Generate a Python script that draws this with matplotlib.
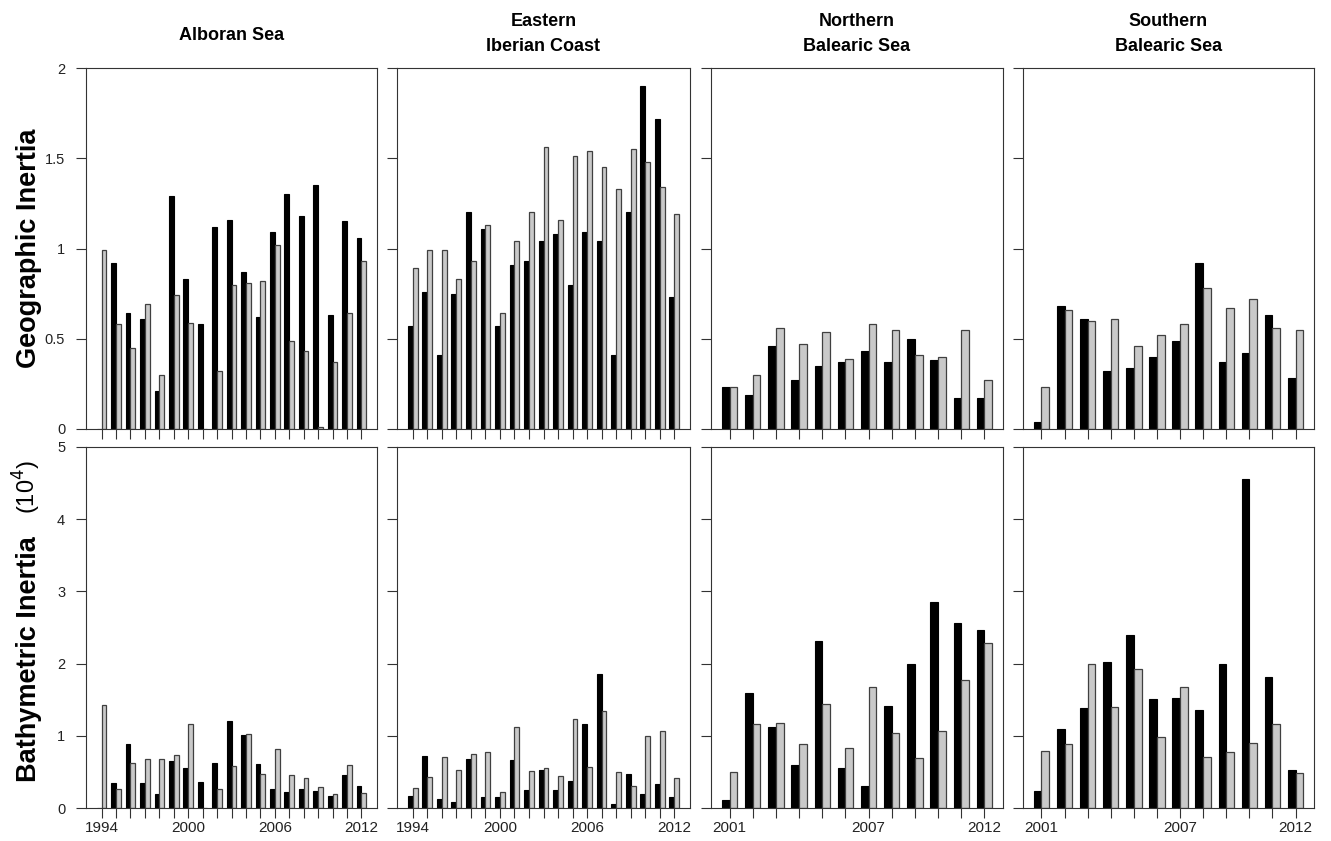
import numpy as np
import matplotlib
matplotlib.use('Agg')
import matplotlib.pyplot as plt

plt.rcParams['font.family'] = ['Liberation Sans', 'DejaVu Sans']

# year categories
years_long = [1994, 1995, 1996, 1997, 1998, 1999, 2000, 2001, 2002, 2003,
              2004, 2005, 2006, 2007, 2008, 2009, 2010, 2011, 2012]
years_short = [2001, 2002, 2003, 2004, 2005, 2006, 2007, 2008, 2009, 2010, 2011, 2012]
labels_long = ['1994', '', '', '', '', '', '2000', '', '', '', '', '', '2006', '', '', '', '', '', '2012']
labels_short = ['2001', '', '', '', '', '', '2007', '', '', '', '', '2012']

areas = ['Alboran Sea', 'Eastern\nIberian Coast', 'Northern\nBalearic Sea', 'Southern\nBalearic Sea']

# geographic inertia (top row): black bars and grey bars
alb_geo_black = [0, 0.92, 0.64, 0.61, 0.21, 1.29, 0.83, 0.58, 1.12, 1.16,
                 0.87, 0.62, 1.09, 1.30, 1.18, 1.35, 0.63, 1.15, 1.06]
alb_geo_grey = [0.99, 0.58, 0.45, 0.69, 0.30, 0.74, 0.59, 0, 0.32, 0.80,
                0.81, 0.82, 1.02, 0.49, 0.43, 0.01, 0.37, 0.64, 0.93]
eib_geo_black = [0.57, 0.76, 0.41, 0.75, 1.20, 1.11, 0.57, 0.91, 0.93, 1.04,
                 1.08, 0.80, 1.09, 1.04, 0.41, 1.20, 1.90, 1.72, 0.73]
eib_geo_grey = [0.89, 0.99, 0.99, 0.83, 0.93, 1.13, 0.64, 1.04, 1.20, 1.56,
                1.16, 1.51, 1.54, 1.45, 1.33, 1.55, 1.48, 1.34, 1.19]
nbs_geo_black = [0.23, 0.19, 0.46, 0.27, 0.35, 0.37, 0.43, 0.37, 0.50, 0.38, 0.17, 0.17]
nbs_geo_grey = [0.23, 0.30, 0.56, 0.47, 0.54, 0.39, 0.58, 0.55, 0.41, 0.40, 0.55, 0.27]
sbs_geo_black = [0.04, 0.68, 0.61, 0.32, 0.34, 0.40, 0.49, 0.92, 0.37, 0.42, 0.63, 0.28]
sbs_geo_grey = [0.23, 0.66, 0.60, 0.61, 0.46, 0.52, 0.58, 0.78, 0.67, 0.72, 0.56, 0.55]

# bathymetric inertia (bottom row, x 10^4)
alb_bat_black = [0, 0.35, 0.88, 0.34, 0.19, 0.65, 0.55, 0.36, 0.63, 1.21,
                 1.01, 0.61, 0.26, 0.22, 0.27, 0.23, 0.17, 0.46, 0.30]
alb_bat_grey = [1.43, 0.27, 0.63, 0.68, 0.68, 0.73, 1.16, 0, 0.27, 0.58,
                1.02, 0.47, 0.82, 0.46, 0.42, 0.29, 0.19, 0.60, 0.21]
eib_bat_black = [0.17, 0.72, 0.13, 0.09, 0.68, 0.15, 0.15, 0.67, 0.25, 0.53,
                 0.25, 0.37, 1.16, 1.86, 0.06, 0.47, 0.20, 0.33, 0.15]
eib_bat_grey = [0.28, 0.43, 0.71, 0.52, 0.75, 0.77, 0.22, 1.12, 0.51, 0.56,
                0.45, 1.23, 0.57, 1.35, 0.50, 0.30, 1.00, 1.07, 0.42]
nbs_bat_black = [0.11, 1.59, 1.12, 0.60, 2.31, 0.55, 0.30, 1.41, 1.99, 2.85, 2.56, 2.47]
nbs_bat_grey = [0.50, 1.16, 1.18, 0.89, 1.44, 0.83, 1.68, 1.04, 0.69, 1.06, 1.77, 2.28]
sbs_bat_black = [0.24, 1.10, 1.39, 2.02, 2.40, 1.51, 1.52, 1.36, 2.00, 4.56, 1.81, 0.53]
sbs_bat_grey = [0.79, 0.89, 2.00, 1.40, 1.93, 0.99, 1.68, 0.71, 0.78, 0.90, 1.17, 0.49]

top_data = [(alb_geo_black, alb_geo_grey), (eib_geo_black, eib_geo_grey),
            (nbs_geo_black, nbs_geo_grey), (sbs_geo_black, sbs_geo_grey)]
bot_data = [(alb_bat_black, alb_bat_grey), (eib_bat_black, eib_bat_grey),
            (nbs_bat_black, nbs_bat_grey), (sbs_bat_black, sbs_bat_grey)]
col_years = [years_long, years_long, years_short, years_short]
col_labels = [labels_long, labels_long, labels_short, labels_short]

W, H = 1331, 841
fig = plt.figure(figsize=(W / 100, H / 100), dpi=100)

col_left = [86, 397, 711, 1023]
col_right = [377, 690, 1003, 1314]
row_top = [68, 447]
row_bot = [429, 808]
edge = '#333333'


def add_ax(l, t, r, b):
    return fig.add_axes([l / W, 1 - b / H, (r - l) / W, (b - t) / H])


def draw_panel(ax, years, black, grey, ymax, yticks, ylabels, xlabels, show_y, show_x):
    n = len(years)
    x = np.arange(n)
    w = 1 / 3
    ax.bar(x - w / 2, black, width=w, color='black', edgecolor='black', linewidth=0.8)
    ax.bar(x + w / 2, grey, width=w, color='#c9c9c9', edgecolor='#404040', linewidth=0.9)
    span = (3 * n - 1) / 3
    ax.set_xlim(-w - 0.04 * span, n - 1 + w + 0.04 * span)
    ax.set_ylim(0, ymax)
    ax.set_xticks(x)
    ax.set_yticks(yticks)
    if show_x:
        ax.set_xticklabels(xlabels)
    else:
        ax.set_xticklabels([])
    if show_y:
        ax.set_yticklabels(ylabels)
    else:
        ax.set_yticklabels([])
    ax.tick_params(axis='x', direction='out', length=7, width=0.8, color=edge,
                   labelsize=11, pad=2, labelcolor='#222222')
    ax.tick_params(axis='y', direction='out', length=7, width=0.8, color=edge,
                   labelsize=10.5, pad=8, labelcolor='#222222')
    for s in ax.spines.values():
        s.set_color(edge)
        s.set_linewidth(0.8)


for c in range(4):
    ax = add_ax(col_left[c], row_top[0], col_right[c], row_bot[0])
    draw_panel(ax, col_years[c], top_data[c][0], top_data[c][1], 2,
               [0, 0.5, 1, 1.5, 2], ['0', '0.5', '1', '1.5', '2'],
               col_labels[c], c == 0, False)
    ax2 = add_ax(col_left[c], row_top[1], col_right[c], row_bot[1])
    draw_panel(ax2, col_years[c], bot_data[c][0], bot_data[c][1], 5,
               [0, 1, 2, 3, 4, 5], ['0', '1', '2', '3', '4', '5'],
               col_labels[c], c == 0, True)
    cx = (col_left[c] + col_right[c]) / 2
    ty = 36 if c == 0 else 34
    fig.text(cx / W, 1 - ty / H, areas[c], ha='center', va='center',
             fontsize=13, fontweight='bold', linespacing=1.55)

# y labels, baseline aligned
fig.text(36 / W, 1 - 248 / H, 'Geographic Inertia', rotation=90, rotation_mode='anchor',
         ha='center', va='baseline', fontsize=19.5, fontweight='bold')
fig.text(36 / W, 1 - 659 / H, 'Bathymetric Inertia', rotation=90, rotation_mode='anchor',
         ha='center', va='baseline', fontsize=19.5, fontweight='bold')
fig.text(36 / W, 1 - 487 / H, r'(10$^4$)', rotation=90, rotation_mode='anchor',
         ha='center', va='baseline', fontsize=17)

fig.savefig('out.png', dpi=100)
